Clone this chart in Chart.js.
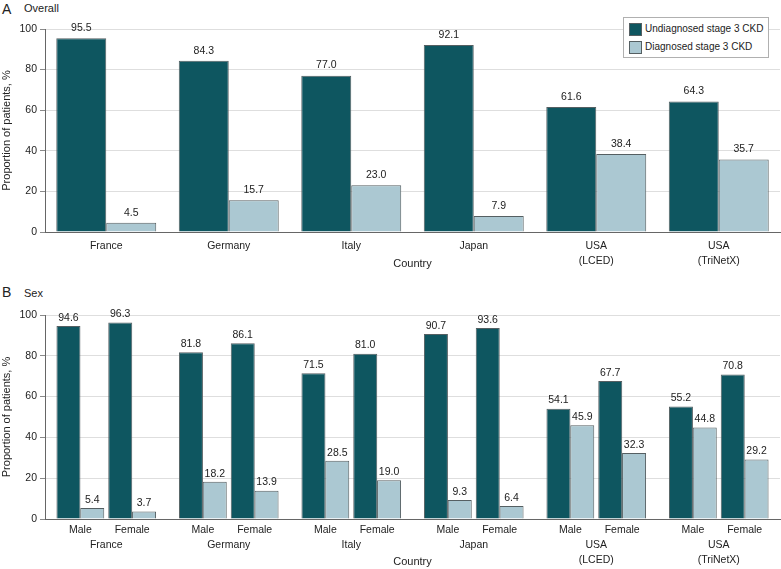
<!DOCTYPE html>
<html>
<head>
<meta charset="utf-8">
<script src="https://cdn.jsdelivr.net/npm/chart.js@4.4.1/dist/chart.umd.min.js"></script>
<style>
  html,body{margin:0;padding:0;background:#fff;}
  #wrap{position:relative;width:781px;height:569px;background:#fff;font-family:"Liberation Sans",Arial,sans-serif;color:#222;overflow:hidden;}
  .t{position:absolute;white-space:nowrap;line-height:1;}
  canvas{position:absolute;left:0;}
  #legend{position:absolute;left:623px;top:17px;width:144px;height:39px;border:1px solid #b0b0b0;background:#fff;font-size:10px;}
  .li{position:absolute;left:5px;height:12px;}
  .sw{position:absolute;left:0;top:0;width:11px;height:11px;border:1px solid #555f62;}
  .lt{position:absolute;left:16px;top:0;line-height:12px;white-space:nowrap;}
</style>
</head>
<body>
<div id="wrap">
  <div class="t" style="left:2px;top:2px;font-size:14px;">A</div>
  <div class="t" style="left:24px;top:3px;font-size:11px;">Overall</div>
  <div class="t" style="left:2px;top:285px;font-size:14px;">B</div>
  <div class="t" style="left:24px;top:288px;font-size:11px;">Sex</div>
  <canvas id="cA" width="781" height="275" style="top:0;"></canvas>
  <canvas id="cB" width="781" height="294" style="top:275px;"></canvas>
  <div id="legend">
    <div class="li" style="top:5px;"><div class="sw" style="background:#0e5660;"></div><div class="lt">Undiagnosed stage 3 CKD</div></div>
    <div class="li" style="top:23px;"><div class="sw" style="background:#abc8d2;"></div><div class="lt">Diagnosed stage 3 CKD</div></div>
  </div>
</div>
<script>
// ---- data ----
const countries = [["France"], ["Germany"], ["Italy"], ["Japan"], ["USA", "(LCED)"], ["USA", "(TriNetX)"]];
const seriesNames = ["Undiagnosed stage 3 CKD", "Diagnosed stage 3 CKD"];
const overallUndiag = [95.5, 84.3, 77.0, 92.1, 61.6, 64.3];
const overallDiag = [4.5, 15.7, 23.0, 7.9, 38.4, 35.7];
const sexLabels = ["Male", "Female"];
const maleUndiag = [94.6, 81.8, 71.5, 90.7, 54.1, 55.2];
const maleDiag = [5.4, 18.2, 28.5, 9.3, 45.9, 44.8];
const femaleUndiag = [96.3, 86.1, 81.0, 93.6, 67.7, 70.8];
const femaleDiag = [3.7, 13.9, 19.0, 6.4, 32.3, 29.2];
const yTicks = [0, 20, 40, 60, 80, 100];
const yTitle = "Proportion of patients, %";
const xTitle = "Country";

// ---- styles ----
const DARK = '#0e5660', LIGHT = '#abc8d2', EDGE = '#555f62', TXT = '#222';
const FONT = '"Liberation Sans", Arial, sans-serif';
Chart.defaults.font.family = FONT;
Chart.defaults.color = TXT;

const valueLabels = {
  id: 'valueLabels',
  afterDatasetsDraw(chart, args, opts) {
    const ctx = chart.ctx;
    ctx.save();
    ctx.font = (opts.size || 10) + 'px ' + FONT;
    ctx.fillStyle = TXT;
    ctx.textAlign = 'center';
    ctx.textBaseline = 'bottom';
    chart.data.datasets.forEach((ds, di) => {
      const meta = chart.getDatasetMeta(di);
      meta.data.forEach((el, i) => {
        ctx.fillText(ds.data[i].toFixed(1), el.x, el.y - (opts.gap || 3));
      });
    });
    ctx.restore();
  }
};

const sexTickLabels = {
  id: 'sexTickLabels',
  afterDraw(chart, args, opts) {
    if (!opts.enabled) return;
    const ctx = chart.ctx;
    ctx.save();
    ctx.font = '10.5px ' + FONT;
    ctx.fillStyle = TXT;
    ctx.textAlign = 'center';
    ctx.textBaseline = 'middle';
    const m0 = chart.getDatasetMeta(0), m1 = chart.getDatasetMeta(1);
    const m2 = chart.getDatasetMeta(2), m3 = chart.getDatasetMeta(3);
    const y = chart.chartArea.bottom + opts.offset;
    m0.data.forEach((el, i) => {
      ctx.fillText(sexLabels[0], (m0.data[i].x + m1.data[i].x) / 2, y);
      ctx.fillText(sexLabels[1], (m2.data[i].x + m3.data[i].x) / 2, y);
    });
    ctx.restore();
  }
};

function yScale(width) {
  return {
    min: 0, max: 100,
    afterBuildTicks: s => { s.ticks = yTicks.map(v => ({ value: v })); },
    afterFit: s => { s.width = width; },
    ticks: { font: { size: 10.5 }, padding: 3, color: TXT },
    grid: { color: '#dedede', tickColor: '#8a8a8a', tickLength: 5, lineWidth: 1 },
    border: { color: '#666', width: 1 },
    title: { display: true, text: yTitle, font: { size: 11 }, padding: 0, color: TXT }
  };
}
function xScale(height, pad, titlePadBottom) {
  return {
    afterFit: s => { s.height = height; },
    grid: { display: false, drawTicks: false },
    border: { color: '#666', width: 1 },
    ticks: { font: { size: 10.5, lineHeight: 1.45 }, padding: pad, color: TXT, maxRotation: 0, autoSkip: false },
    title: { display: true, text: xTitle, font: { size: 11 }, padding: { top: 0, bottom: titlePadBottom }, color: TXT }
  };
}

const barBase = { borderColor: EDGE, borderWidth: 1 };

new Chart(document.getElementById('cA'), {
  type: 'bar',
  data: {
    labels: countries,
    datasets: [
      Object.assign({ label: seriesNames[0], data: overallUndiag, backgroundColor: DARK, categoryPercentage: 0.816, barPercentage: 1 }, barBase),
      Object.assign({ label: seriesNames[1], data: overallDiag, backgroundColor: LIGHT, categoryPercentage: 0.816, barPercentage: 1 }, barBase)
    ]
  },
  options: {
    responsive: false, animation: false, devicePixelRatio: 1,
    layout: { padding: { top: 29, right: 1, left: 0, bottom: 0 } },
    plugins: { legend: { display: false }, tooltip: { enabled: false },
      valueLabels: { size: 10.5, gap: 5 }, sexTickLabels: { enabled: false } },
    scales: { x: xScale(43, 6, 4), y: yScale(45) }
  },
  plugins: [valueLabels, sexTickLabels]
});

// per-bar offsets within each country group (style only)
const outer = { categoryPercentage: 0.823, barPercentage: 0.952 };
const inner = { categoryPercentage: 0.914, barPercentage: 0.857 };
new Chart(document.getElementById('cB'), {
  type: 'bar',
  data: {
    labels: countries,
    datasets: [
      Object.assign({ label: sexLabels[0] + ' ' + seriesNames[0], data: maleUndiag, backgroundColor: DARK }, outer, barBase),
      Object.assign({ label: sexLabels[0] + ' ' + seriesNames[1], data: maleDiag, backgroundColor: LIGHT }, inner, barBase),
      Object.assign({ label: sexLabels[1] + ' ' + seriesNames[0], data: femaleUndiag, backgroundColor: DARK }, inner, barBase),
      Object.assign({ label: sexLabels[1] + ' ' + seriesNames[1], data: femaleDiag, backgroundColor: LIGHT }, outer, barBase)
    ]
  },
  options: {
    responsive: false, animation: false, devicePixelRatio: 1,
    layout: { padding: { top: 40, right: 1, left: 0, bottom: 0 } },
    plugins: { legend: { display: false }, tooltip: { enabled: false },
      valueLabels: { size: 10.5, gap: 3 }, sexTickLabels: { enabled: true, offset: 11.5 } },
    scales: { x: xScale(50, 18, 0), y: yScale(45) }
  },
  plugins: [valueLabels, sexTickLabels]
});
</script>
</body>
</html>
